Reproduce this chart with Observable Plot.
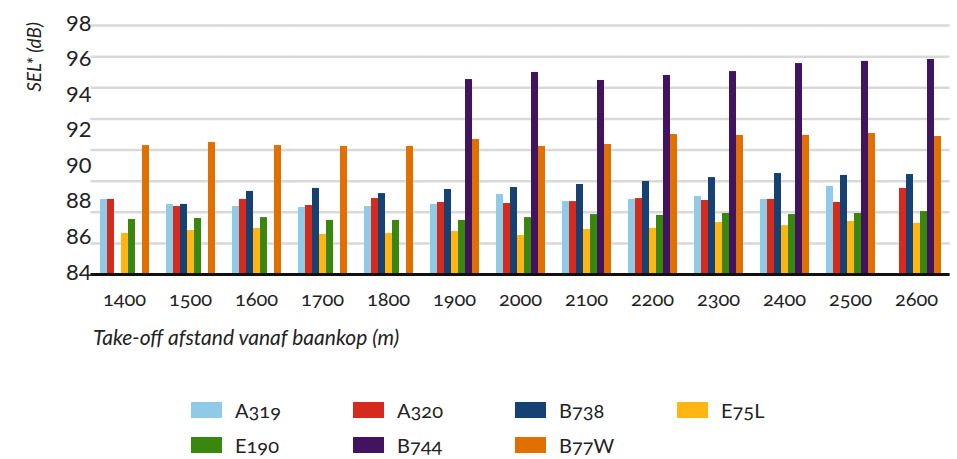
<!DOCTYPE html>
<html>
<head>
<meta charset="utf-8">
<script src="https://cdn.jsdelivr.net/npm/d3@7"></script>
<script src="https://cdn.jsdelivr.net/npm/@observablehq/plot@0.6"></script>
<style>
  html, body { margin: 0; padding: 0; background: #fff; }
  body { width: 957px; height: 459px; position: relative; overflow: hidden; font-family: Lato, "Open Sans", sans-serif; color: #222; font-variant-numeric: oldstyle-nums; }
  #chart { position: absolute; left: 0; top: 0; }
  #ylabel { position: absolute; left: 33px; top: 57px; transform: translate(-50%, -50%) rotate(-90deg); font-style: italic; font-size: 19px; white-space: nowrap; }
  #xlabel { position: absolute; left: 93px; top: 326px; font-style: italic; font-size: 21px; line-height: 21px; white-space: nowrap; }
  #legend { position: absolute; left: 191px; top: 400px; display: grid; grid-template-columns: repeat(4, 162px); row-gap: 15px; }
  .item { display: flex; align-items: center; height: 20px; font-size: 20px; }
  .sw { width: 31px; height: 16px; margin-right: 13px; flex: none; }
</style>
</head>
<body>
<div id="chart"></div>
<div id="ylabel">SEL* (dB)</div>
<div id="xlabel">Take-off afstand vanaf baankop (m)</div>
<div id="legend"></div>
<script>
// Categories
const distances = ["1400","1500","1600","1700","1800","1900","2000","2100","2200","2300","2400","2500","2600"];
const types = ["A319","A320","B738","E75L","E190","B744","B77W"];
const typeColors = ["#8fcae7","#d52b1e","#154273","#ffb612","#39870c","#42145f","#e17000"];

// Series values (SEL* in dB), null = no bar
const A319 = [88.22, 87.94, 87.82, 87.77, 87.82, 87.94, 88.50, 88.10, 88.22, 88.39, 88.22, 88.95, null];
const A320 = [88.22, 87.82, 88.22, 87.88, 88.27, 88.05, 87.99, 88.10, 88.27, 88.16, 88.22, 88.05, 88.84];
const B738 = [null, 87.94, 88.67, 88.84, 88.55, 88.78, 88.89, 89.06, 89.23, 89.45, 89.68, 89.57, 89.62];
const E75L = [86.31, 86.47, 86.59, 86.25, 86.31, 86.42, 86.19, 86.53, 86.59, 86.92, 86.75, 86.98, 86.87];
const E190 = [87.09, 87.15, 87.20, 87.04, 87.04, 87.04, 87.20, 87.37, 87.32, 87.43, 87.37, 87.43, 87.54];
const B744 = [null, null, null, null, null, 94.96, 95.36, 94.91, 95.19, 95.41, 95.86, 95.98, 96.09];
const B77W = [91.25, 91.42, 91.25, 91.20, 91.20, 91.59, 91.20, 91.31, 91.87, 91.82, 91.82, 91.93, 91.76];

// Axis ticks and gridlines
const yTicks = [84, 86, 88, 90, 92, 94, 96, 98];
const yGrid = [84, 85.75, 87.5, 89.25, 91, 92.75, 94.5, 96.25, 98];
const yBase = [84];

const series = { A319, A320, B738, E75L, E190, B744, B77W };
const rows = [];
distances.forEach((d, i) => {
  types.forEach(t => {
    const v = series[t][i];
    if (v != null) rows.push({ dist: d, type: t, value: v });
  });
});

const chart = Plot.plot({
  width: 957,
  height: 320,
  marginTop: 25,
  marginBottom: 46,
  marginLeft: 89,
  marginRight: 6,
  style: { fontFamily: "Lato, 'Open Sans', sans-serif", fontSize: "20px", color: "#222", background: "#fff" },
  fx: { domain: distances, paddingInner: 0.21, paddingOuter: 0.105, label: null },
  x: { domain: types, padding: 0.05, axis: null },
  y: { domain: [84, 98], label: null },
  color: { domain: types, range: typeColors },
  marks: [
    Plot.ruleY(yGrid, { stroke: "#d9d9d9", strokeWidth: 2.5, insetLeft: -7.6, insetRight: -7.6 }),
    Plot.barY(rows, { fx: "dist", x: "type", y1: 84, y2: "value", fill: "type" }),
    Plot.ruleY(yBase, { stroke: "#111", strokeWidth: 3, insetLeft: -7.6, insetRight: -7.6 }),
    Plot.axisY({ ticks: yTicks, tickSize: 0, tickPadding: 7, fontSize: 22, dy: -2, label: null }),
    Plot.axisFx({ anchor: "bottom", tickSize: 0, tickPadding: 17, fontSize: 20, label: null })
  ]
});
chart.style.fontVariantNumeric = "oldstyle-nums";
document.getElementById("chart").appendChild(chart);

const legend = document.getElementById("legend");
types.forEach((t, i) => {
  const it = document.createElement("div");
  it.className = "item";
  const sw = document.createElement("span");
  sw.className = "sw";
  sw.style.background = typeColors[i];
  const lab = document.createElement("span");
  lab.textContent = t;
  it.appendChild(sw);
  it.appendChild(lab);
  legend.appendChild(it);
});
</script>
</body>
</html>
